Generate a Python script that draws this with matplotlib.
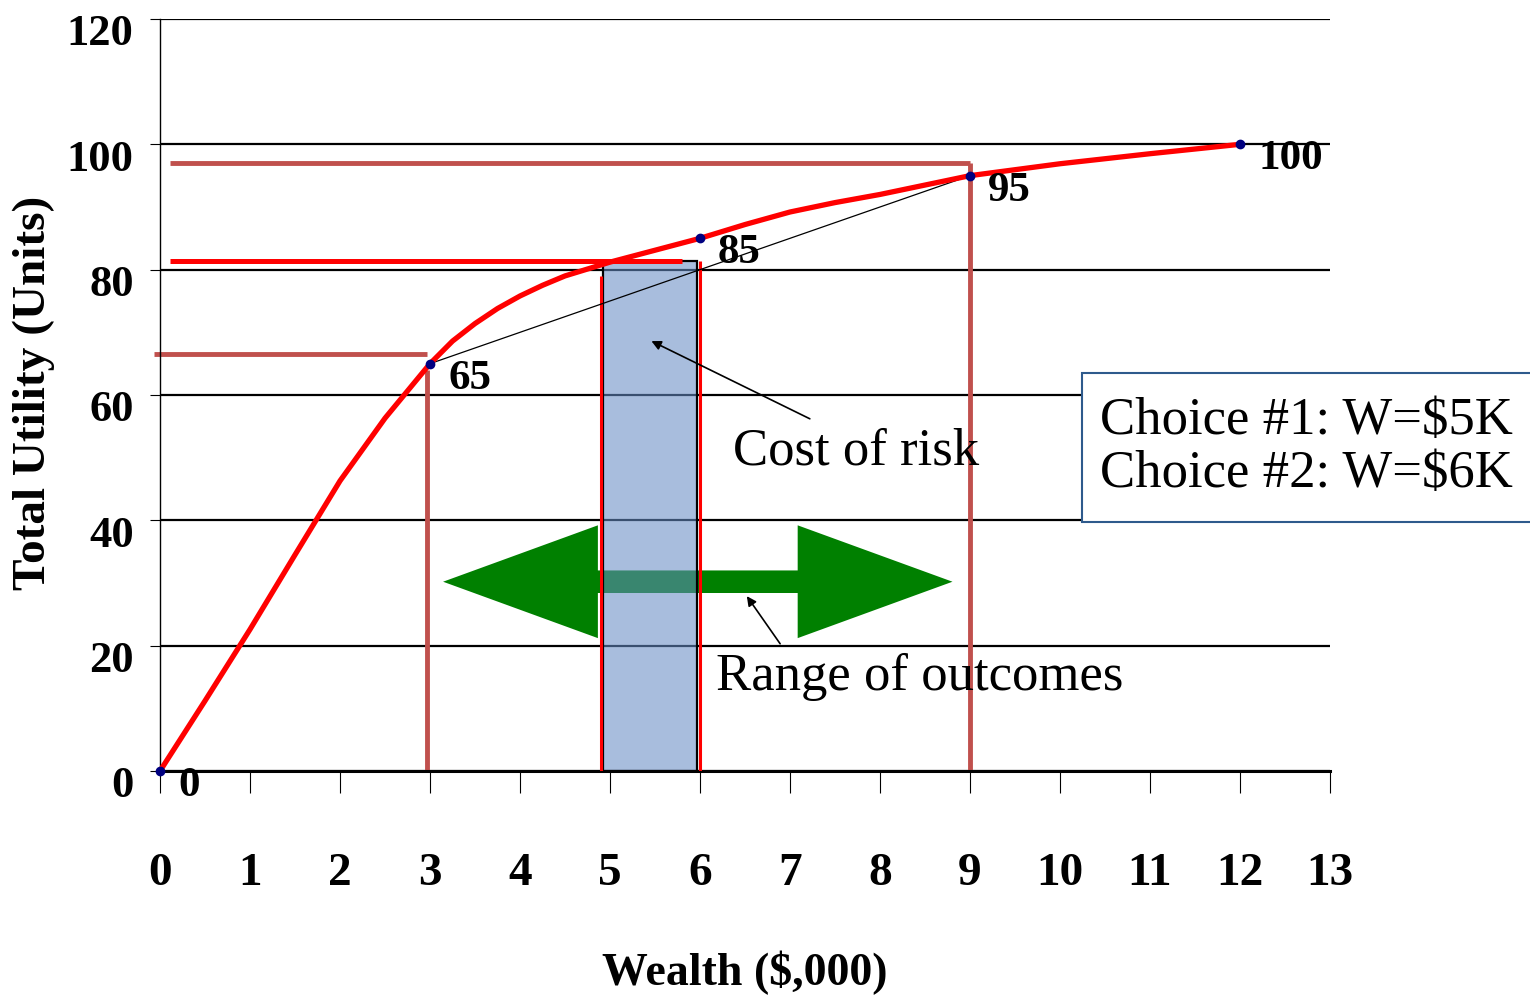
import matplotlib
matplotlib.use('Agg')
import matplotlib.pyplot as plt
import matplotlib.transforms as mtransforms
from matplotlib.patches import Rectangle, FancyArrow

# utility curve
wealth = [0, 0.5, 1, 1.5, 2, 2.5, 3, 3.25, 3.5, 3.75, 4, 4.25, 4.5, 5, 5.5, 6, 6.5, 7, 7.5,
          8, 8.5, 9, 10, 11, 12]
utility = [0, 11.2, 22.6, 34.5, 46.3, 56.3, 65, 68.6, 71.4, 73.8, 75.8, 77.5, 79.0, 81.2,
           83.1, 85, 87.2, 89.2, 90.7, 92.0, 93.5, 95, 96.9, 98.5, 100]

# labelled points on the curve
point_x = [0, 3, 6, 9, 12]
point_y = [0, 65, 85, 95, 100]
point_labels = ['0', '65', '85', '95', '100']

x_ticks = list(range(0, 14))
y_ticks = [0, 20, 40, 60, 80, 100, 120]

# outcomes of the gamble and their utility guide lines
outcome_x = [2.97, 9.0]
outcome_level = [66.5, 97.0]
outcome_start = [-0.07, 0.11]
outcome_top = [64, 97.0]

# certainty equivalent / cost of risk box
ce_level = 81.4
ce_line_end = 5.8
box_x = [4.92, 5.97]
box_edge_x = [4.9, 6.0]
box_edge_top = [79, 81.3]

choices = "Choice #1: W=$5K\nChoice #2: W=$6K"

plt.rcParams['font.family'] = ['Liberation Serif', 'DejaVu Serif']

guide_red = '#C0504D'

fig = plt.figure(figsize=(15.3, 10.04), dpi=100)
ax = fig.add_axes([0.1046, 0.2311, 0.7647, 0.749])
ax.set_xlim(0, 13)
ax.set_ylim(0, 120)

# axes look
ax.set_axisbelow(True)
ax.yaxis.grid(True, color='black', lw=1.6)
ax.spines['top'].set_visible(False)
ax.spines['right'].set_visible(False)
ax.spines['left'].set_linewidth(1.0)
ax.spines['bottom'].set_linewidth(2.2)
ax.set_xticks(x_ticks)
ax.set_yticks(y_ticks)
ax.tick_params(axis='x', direction='out', length=16, width=0.8, pad=42, labelsize=34)
ax.tick_params(axis='y', direction='out', length=7, width=0.8, pad=12, labelsize=32)
for lab in ax.get_xticklabels() + ax.get_yticklabels():
    lab.set_fontweight('bold')
# y labels sit a little below their grid lines in the original
down = mtransforms.ScaledTranslation(0, -7 / 72, fig.dpi_scale_trans)
for lab in ax.get_yticklabels():
    lab.set_transform(lab.get_transform() + down)

ax.set_xlabel('Wealth ($,000)', fontsize=33, fontweight='bold')
ax.xaxis.set_label_coords(0.5, -0.237)
ax.set_ylabel('Total Utility (Units)', fontsize=34, fontweight='bold')
ax.yaxis.set_label_coords(-0.09, 0.504)

# guide lines for the two outcomes
for x, lvl, x0, top in zip(outcome_x, outcome_level, outcome_start, outcome_top):
    ax.plot([x0, x], [lvl, lvl], color=guide_red, lw=3.5, zorder=2, clip_on=False,
            solid_capstyle='butt')
    ax.plot([x, x], [0, top], color=guide_red, lw=3.5, zorder=2, solid_capstyle='butt')

# range of outcomes double arrow
mid = (outcome_x[0] + outcome_x[1]) / 2 - 0.01
half = 2.83
for d in (-half, half):
    ax.add_patch(FancyArrow(mid, 30.2, d, 0, width=3.6, head_width=18, head_length=1.72,
                            length_includes_head=True, color='#008000', lw=0, zorder=3))

# cost of risk box
ax.add_patch(Rectangle((box_x[0], 0), box_x[1] - box_x[0], ce_level, facecolor='#668CC4',
                       alpha=0.57, edgecolor='none', zorder=4))
ax.add_patch(Rectangle((box_x[0], 0), box_x[1] - box_x[0], ce_level, facecolor='none',
                       edgecolor='black', lw=1.6, zorder=5))
for x, top in zip(box_edge_x, box_edge_top):
    ax.plot([x, x], [0, top], color='red', lw=2.2, zorder=5, solid_capstyle='butt')

# certainty equivalent level
ax.plot([0.11, ce_line_end], [ce_level, ce_level], color='red', lw=3.6, zorder=5,
        solid_capstyle='butt')

# chord between the outcomes
ax.plot([point_x[1], point_x[3]], [point_y[1], point_y[3]], color='black', lw=0.9, zorder=6)

# utility curve
ax.plot(wealth, utility, color='red', lw=3.8, zorder=7, solid_joinstyle='round',
        solid_capstyle='round', clip_on=False)
ax.plot(point_x, point_y, 'o', color='#000080', ms=6, zorder=8, clip_on=False)
for x, y, s in zip(point_x, point_y, point_labels):
    ax.annotate(s, (x, y), xytext=(13, -10), textcoords='offset points', ha='left',
                va='center', fontsize=31, fontweight='bold', zorder=9, annotation_clip=False)

# annotations
ax.text(6.37, 49.0, 'Cost of risk', fontsize=38, ha='left', va='baseline', zorder=9)
ax.annotate('', xy=(5.46, 68.6), xytext=(7.22, 56.2), zorder=9,
            arrowprops=dict(arrowstyle='-|>', color='black', lw=1.2, mutation_scale=14,
                            shrinkA=0, shrinkB=0))
ax.text(6.18, 13.1, 'Range of outcomes', fontsize=38, ha='left', va='baseline', zorder=9)
ax.annotate('', xy=(6.52, 27.9), xytext=(6.89, 20.3), zorder=9,
            arrowprops=dict(arrowstyle='-|>', color='black', lw=1.2, mutation_scale=14,
                            shrinkA=0, shrinkB=0))

# choice box, running off the right edge
ax.add_patch(Rectangle((10.24, 39.7), 6.0, 23.8, facecolor='white', edgecolor='#2E5A8C',
                       lw=1.5, zorder=10, clip_on=False))
ax.text(10.44, 51.8, choices, fontsize=38, ha='left', va='center', linespacing=1.15,
        zorder=11, clip_on=False)

fig.savefig('out.png', dpi=100)
